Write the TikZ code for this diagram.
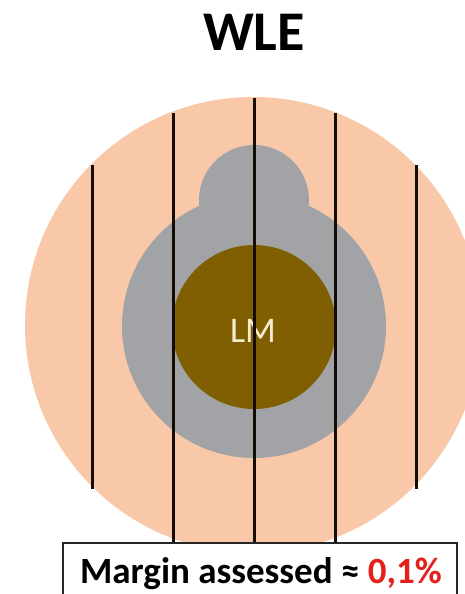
\documentclass[tikz,border=0pt]{standalone}
\usepackage{fontspec}
\setmainfont{Carlito}
\usetikzlibrary{positioning}

\definecolor{peach}{HTML}{F9C8A8}
\definecolor{zonegray}{HTML}{A2A3A7}
\definecolor{lmbrown}{HTML}{7F5F02}
\definecolor{lmtext}{HTML}{F4EDCF}
\definecolor{marginred}{HTML}{E3201B}

\begin{document}
\begin{tikzpicture}[
    x=1pt, y=-1pt,
    cutline/.style={line width=3pt, black!90!brown},
]

% ---- frame ----
\useasboundingbox (0,0) rectangle (465,594);
\clip (0,0) rectangle (465,594);
\fill[white] (0,0) rectangle (465,594);

% ---- title ----
\node[font=\fontsize{56}{56}\selectfont\bfseries] (title) at (254,32) {WLE};

% ---- specimen: outer tissue, tumour bed, lesion ----
\fill[peach] (253,325) circle[radius=228];
\fill[zonegray] (254,326) circle[radius=132];
\fill[zonegray] (254,200) circle[radius=55];
% small neck between bump and main zone
\fill[zonegray] (196,222) .. controls (203,212) and (205,205) .. (205,195)
  -- (303,195) .. controls (303,205) and (305,212) .. (312,222) -- cycle;
\fill[lmbrown] (254,327) circle[radius=82];
\node[font=\fontsize{36}{36}\selectfont, text=lmtext, anchor=base]
  (lm) at (253,342) {LM};

% ---- section cuts ----
\foreach \x/\ytop/\ybot in {92/165/489, 173/113/545, 254/98/545,
                            335/113/545, 416/165/489} {
  \draw[cutline] (\x,\ytop) -- (\x,\ybot);
}

% ---- result box ----
\draw[fill=white, draw=black!85, line width=1.8pt] (63,543) rectangle (457,620);
\node[font=\fontsize{37}{37}\selectfont\bfseries, anchor=base]
  (margin) at (261,583) {Margin assessed ≈ \textcolor{marginred}{0,1\%}};

\end{tikzpicture}
\end{document}
